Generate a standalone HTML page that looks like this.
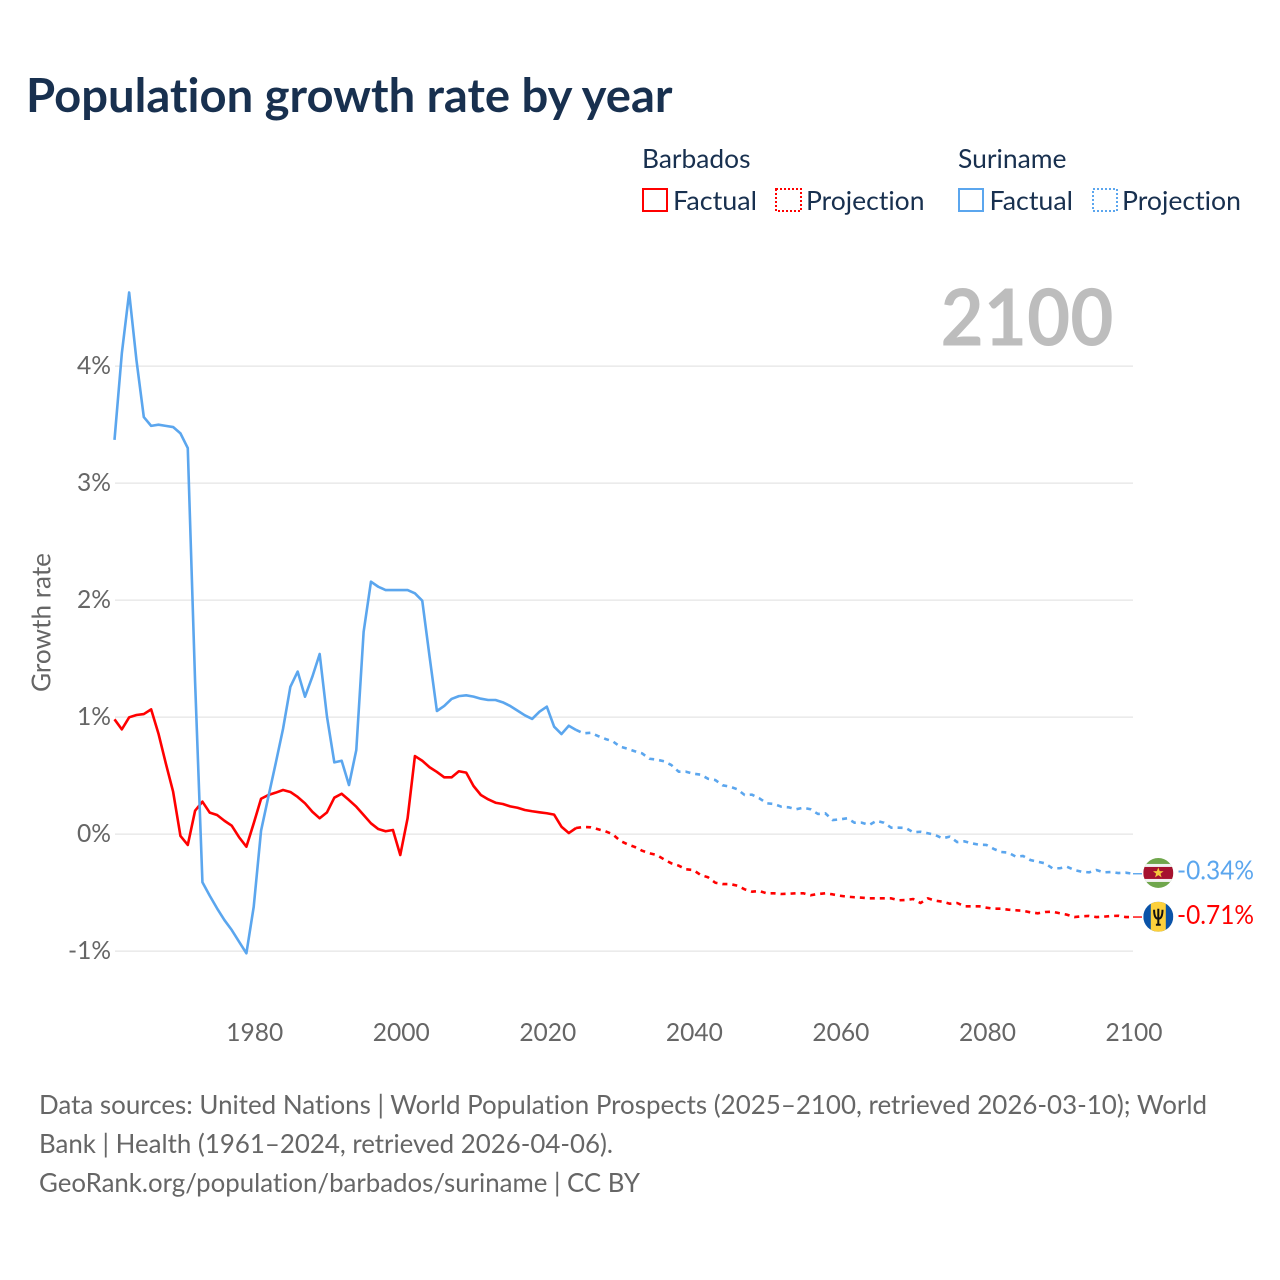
<!DOCTYPE html>
<html lang="en">
<head>
<meta charset="utf-8">
<title>Population growth rate by year</title>
<style>
html,body{margin:0;padding:0;background:#fff;}
svg{display:block;}
text{font-family:"Lato","Carlito","Liberation Sans",sans-serif;font-variant-ligatures:none;font-feature-settings:"liga" 0,"clig" 0;}
</style>
</head>
<body>
<svg id="chart" xmlns="http://www.w3.org/2000/svg" width="1280" height="1280" viewBox="0 0 1280 1280">
  <rect x="0" y="0" width="1280" height="1280" fill="#fff"/>
  <text x="26" y="112" font-size="47" font-weight="700" fill="#18304f" textLength="646.5" lengthAdjust="spacingAndGlyphs">Population growth rate by year</text>

  <g font-size="26" fill="#18304f">
    <text x="642" y="168" textLength="108.5" lengthAdjust="spacingAndGlyphs">Barbados</text>
    <text x="958" y="168" textLength="108.5" lengthAdjust="spacingAndGlyphs">Suriname</text>
    <rect x="643" y="189" width="24" height="22" fill="none" stroke="#ff0000" stroke-width="2"/>
    <text x="673" y="210" textLength="84" lengthAdjust="spacingAndGlyphs">Factual</text>
    <rect x="776" y="189" width="25" height="22" fill="none" stroke="#ff0000" stroke-width="2" stroke-dasharray="2 2"/>
    <text x="806" y="210" textLength="118.5" lengthAdjust="spacingAndGlyphs">Projection</text>
    <rect x="959" y="189" width="24" height="22" fill="none" stroke="#5ba6ee" stroke-width="2"/>
    <text x="989.5" y="210" textLength="83.5" lengthAdjust="spacingAndGlyphs">Factual</text>
    <rect x="1093" y="189" width="24" height="22" fill="none" stroke="#5ba6ee" stroke-width="2" stroke-dasharray="2 2"/>
    <text x="1122" y="210" textLength="119" lengthAdjust="spacingAndGlyphs">Projection</text>
  </g>

  <text x="940.5" y="345.5" font-size="79" font-weight="700" fill="#bdbdbd" textLength="173" lengthAdjust="spacingAndGlyphs">2100</text>

  <g id="grid"></g>
  <g id="yticks" font-size="25" fill="#666"></g>
  <g id="xticks" font-size="25" fill="#666"></g>
  <text transform="translate(50.5,622.5) rotate(-90)" text-anchor="middle" font-size="26" fill="#666" textLength="139" lengthAdjust="spacingAndGlyphs">Growth rate</text>

  <g id="series"></g>

  <defs>
    <clipPath id="flag-clip"><circle cx="0" cy="0" r="15"/></clipPath>
  </defs>
  <g id="flag-suriname" clip-path="url(#flag-clip)">
    <rect x="-15" y="-15" width="30" height="30" fill="#6fa64c"/>
    <rect x="-15" y="-9" width="30" height="18" fill="#f2f2f2"/>
    <rect x="-15" y="-6" width="30" height="12" fill="#a6122f"/>
    <polygon points="0,-5.5 1.4,-1.8 5.3,-1.7 2.2,0.7 3.3,4.4 0,2.2 -3.3,4.4 -2.2,0.7 -5.3,-1.7 -1.4,-1.8" fill="#f5c93c"/>
  </g>
  <g id="flag-barbados" clip-path="url(#flag-clip)">
    <rect x="-15" y="-15" width="30" height="30" fill="#0a53a8"/>
    <rect x="-7.5" y="-15" width="15" height="30" fill="#fdd03b"/>
    <path d="M-4.2,-7 C-4.2,0.5 -2.2,2 0,2 C2.2,2 4.2,0.5 4.2,-7 M0,-8 L0,8 M-2.4,8 L2.4,8" fill="none" stroke="#111" stroke-width="2"/>
  </g>
  <g id="end-labels" font-size="26"></g>

  <g font-size="26" fill="#666">
    <text x="39" y="1114" textLength="1168" lengthAdjust="spacingAndGlyphs">Data sources: United Nations | World Population Prospects (2025–2100, retrieved 2026-03-10); World</text>
    <text x="39" y="1153" textLength="574" lengthAdjust="spacingAndGlyphs">Bank | Health (1961–2024, retrieved 2026-04-06).</text>
    <text x="39" y="1192" textLength="601" lengthAdjust="spacingAndGlyphs">GeoRank.org/population/barbados/suriname | CC BY</text>
  </g>
</svg>
<script>
const factualStartYear = 1961;
const projectionStartYear = 2024;
const xTickYears = [1980, 2000, 2020, 2040, 2060, 2080, 2100];
const yTickValues = [4, 3, 2, 1, 0, -1];
const yTickLabels = ['4%', '3%', '2%', '1%', '0%', '-1%'];
const endLabelSuriname = '-0.34%';
const endLabelBarbados = '-0.71%';

const surinameFactual = [
  3.37,4.11,4.63,4.05,3.565,3.49,3.50,3.49,3.48,3.426,
  3.30,1.30,-0.411,-0.526,-0.634,-0.734,-0.819,-0.919,-1.018,-0.62,
  0.03,0.32,0.606,0.90,1.26,1.39,1.175,1.346,1.54,1.004,
  0.614,0.628,0.42,0.72,1.73,2.158,2.115,2.087,2.087,2.087,
  2.087,2.059,1.996,1.517,1.053,1.096,1.156,1.18,1.187,1.176,
  1.158,1.147,1.147,1.127,1.096,1.056,1.016,0.985,1.047,1.09,
  0.919,0.856,0.927,0.891
];
const surinameProjection = [
  0.891,0.862,0.867,0.839,0.814,0.794,0.748,
  0.731,0.709,0.691,0.645,0.637,0.623,0.591,0.534,0.534,0.517,
  0.509,0.474,0.463,0.418,0.406,0.384,0.335,0.338,0.307,0.264,
  0.258,0.235,0.230,0.213,0.226,0.213,0.173,0.179,0.121,0.127,
  0.136,0.098,0.098,0.079,0.115,0.098,0.056,0.056,0.053,0.016,
  0.021,0.008,-0.007,-0.035,-0.021,-0.067,-0.061,-0.078,-0.090,-0.092,
  -0.126,-0.152,-0.158,-0.192,-0.186,-0.221,-0.235,-0.249,-0.291,-0.291,
  -0.278,-0.306,-0.321,-0.326,-0.306,-0.326,-0.323,-0.332,-0.329,-0.338
];
const barbadosFactual = [
  0.982,0.896,0.999,1.019,1.027,1.067,0.86,0.606,0.363,-0.015,
  -0.092,0.201,0.278,0.184,0.164,0.115,0.073,-0.026,-0.107,0.093,
  0.303,0.335,0.355,0.378,0.361,0.318,0.264,0.192,0.136,0.187,
  0.312,0.346,0.292,0.235,0.164,0.093,0.044,0.025,0.036,-0.178,
  0.136,0.668,0.628,0.572,0.532,0.486,0.486,0.538,0.526,0.412,
  0.335,0.298,0.269,0.258,0.238,0.226,0.207,0.196,0.187,0.179,
  0.167,0.064,0.010,0.053
];
const barbadosProjection = [
  0.053,0.062,0.059,0.042,0.025,-0.001,-0.056,
  -0.086,-0.109,-0.141,-0.163,-0.178,-0.215,-0.249,-0.269,-0.300,-0.306,
  -0.349,-0.368,-0.415,-0.426,-0.426,-0.440,-0.471,-0.491,-0.485,-0.505,
  -0.505,-0.511,-0.509,-0.505,-0.505,-0.522,-0.511,-0.505,-0.514,-0.526,
  -0.534,-0.539,-0.543,-0.548,-0.548,-0.548,-0.548,-0.565,-0.562,-0.554,
  -0.588,-0.548,-0.568,-0.577,-0.594,-0.588,-0.616,-0.616,-0.616,-0.628,
  -0.637,-0.637,-0.645,-0.650,-0.654,-0.668,-0.676,-0.665,-0.662,-0.676,
  -0.688,-0.708,-0.702,-0.699,-0.708,-0.705,-0.699,-0.697,-0.708,-0.708
];

const SVG_NS = 'http://www.w3.org/2000/svg';
const RED = '#ff0000';
const BLUE = '#5ba6ee';

function xScale(year) { return 114.5 + (year - 1961) * (1133 - 114.5) / 139; }
function yScale(v) { return 834.2 - v * 117; }

function make(tag, parent, attrs) {
  const el = document.createElementNS(SVG_NS, tag);
  for (const k in attrs) el.setAttribute(k, attrs[k]);
  parent.appendChild(el);
  return el;
}

function linePath(values, startYear) {
  return values.map(function (v, i) {
    return (i ? 'L' : 'M') + xScale(startYear + i).toFixed(2) + ',' + yScale(v).toFixed(2);
  }).join('');
}

const grid = document.getElementById('grid');
const yticks = document.getElementById('yticks');
const xticks = document.getElementById('xticks');
const series = document.getElementById('series');
const endLabels = document.getElementById('end-labels');

yTickValues.forEach(function (v, i) {
  const gl = make('line', grid, { x1: 115, x2: 1133, y1: yScale(v), y2: yScale(v), stroke: '#ebebeb', 'stroke-width': 1.6 });
  
  
  const label = yTickLabels[i];
  const t = make('text', yticks, { x: 111, y: yScale(v) + 8, 'text-anchor': 'end', textLength: label.length === 3 ? 43 : 34, lengthAdjust: 'spacingAndGlyphs' });
  
  
  t.textContent = label;
});

xTickYears.forEach(function (year) {
  const t = make('text', xticks, { x: xScale(year) + 1, y: 1041, 'text-anchor': 'middle', textLength: 57, lengthAdjust: 'spacingAndGlyphs' });
  
  
  t.textContent = String(year);
});

const baseLine = { fill: 'none', 'stroke-width': 2.6, 'stroke-linejoin': 'round' };

const bf = make('path', series, Object.assign({}, baseLine, { d: linePath(barbadosFactual, factualStartYear), stroke: RED }));



const bp = make('path', series, Object.assign({}, baseLine, { d: linePath(barbadosProjection, projectionStartYear), stroke: RED, 'stroke-dasharray': '5 5' }));



const sf = make('path', series, Object.assign({}, baseLine, { d: linePath(surinameFactual, factualStartYear), stroke: BLUE }));



const sp = make('path', series, Object.assign({}, baseLine, { d: linePath(surinameProjection, projectionStartYear), stroke: BLUE, 'stroke-dasharray': '5 5' }));



const sLast = surinameProjection[surinameProjection.length - 1];
const bLast = barbadosProjection[barbadosProjection.length - 1];
const xEnd = xScale(2100);

const sLead = make('line', series, { x1: xEnd, x2: xEnd + 9, y1: yScale(sLast), y2: yScale(sLast), stroke: BLUE, 'stroke-width': 1.4 });



const bLead = make('line', series, { x1: xEnd, x2: xEnd + 9, y1: yScale(bLast), y2: yScale(bLast), stroke: RED, 'stroke-width': 1.4 });



document.getElementById('flag-suriname').setAttribute('transform', 'translate(' + (xEnd + 25.3) + ',' + (yScale(sLast) - 0.8) + ')');
document.getElementById('flag-barbados').setAttribute('transform', 'translate(' + (xEnd + 25.3) + ',' + (yScale(bLast) - 0.3) + ')');

const sLabel = make('text', endLabels, { x: 1177, y: yScale(sLast) + 6, fill: BLUE, textLength: 77, lengthAdjust: 'spacingAndGlyphs' });


sLabel.textContent = endLabelSuriname;

const bLabel = make('text', endLabels, { x: 1177, y: yScale(bLast) + 7, fill: RED, textLength: 77, lengthAdjust: 'spacingAndGlyphs' });


bLabel.textContent = endLabelBarbados;
</script>
</body>
</html>
